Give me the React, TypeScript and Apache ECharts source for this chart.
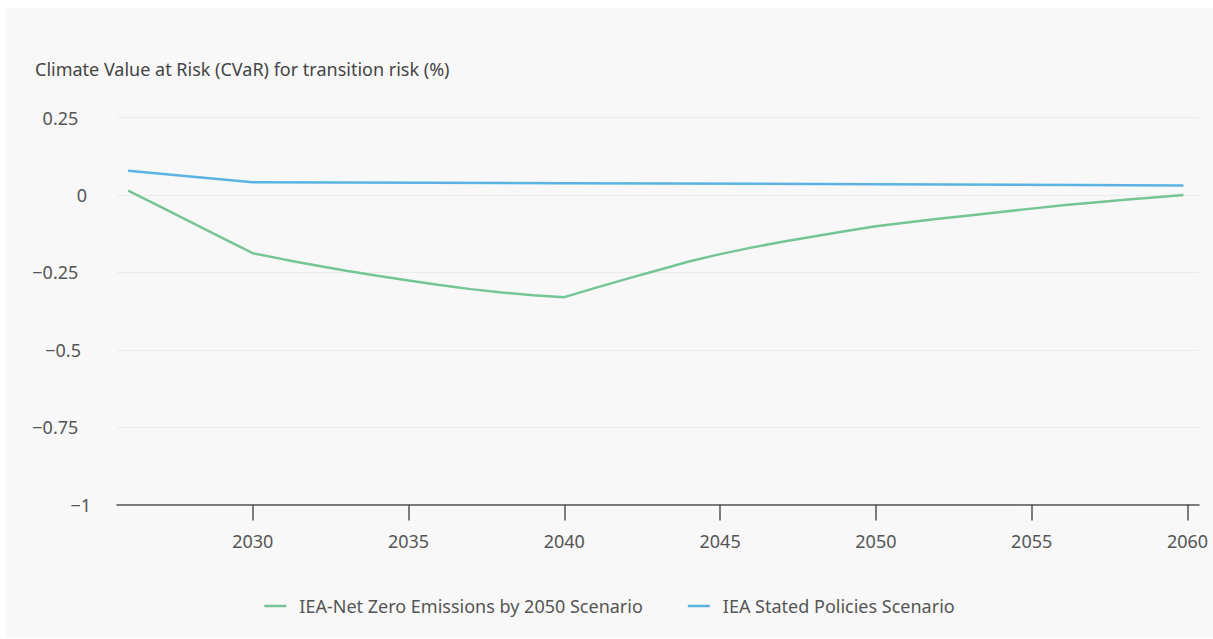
import React, { useEffect, useRef } from "react";
import * as echarts from "echarts";

const TITLE = "Climate Value at Risk (CVaR) for transition risk (%)";
const NZE_NAME = "IEA-Net Zero Emissions by 2050 Scenario";
const STEPS_NAME = "IEA Stated Policies Scenario";

const nzeYears = [2026, 2027, 2028, 2029, 2030, 2031, 2032, 2033, 2034, 2035, 2036, 2037, 2038, 2039, 2040, 2041, 2042, 2043, 2044, 2045, 2046, 2047, 2048, 2049, 2050, 2051, 2052, 2053, 2054, 2055, 2056, 2057, 2058, 2059, 2059.87];
const nzeValues = [0.014, -0.036, -0.087, -0.138, -0.188, -0.208, -0.227, -0.245, -0.261, -0.276, -0.291, -0.304, -0.315, -0.324, -0.33, -0.3, -0.271, -0.243, -0.215, -0.191, -0.17, -0.151, -0.134, -0.117, -0.101, -0.089, -0.077, -0.066, -0.055, -0.044, -0.033, -0.024, -0.015, -0.007, 0.0];

const stepsYears = [2026, 2030, 2040, 2050, 2059.87];
const stepsValues = [0.078, 0.041, 0.038, 0.035, 0.031];

const xTickValues = [2030, 2035, 2040, 2045, 2050, 2055, 2060];
const yMin = -1;
const yMax = 0.25;
const yStep = 0.25;

export default function App() {
  const ref = useRef<HTMLDivElement>(null);
  useEffect(() => {
    if (!ref.current) return;
    const chart = echarts.init(ref.current, undefined, { renderer: "svg" });
    const font = "Noto Sans";
    const fs = 18;
    const padFor = (v: number) => {
      const r = Math.round(v * 100);
      if (r === -100) return "a";
      if (r === 0) return "b";
      if (r === -50) return "c";
      return "d";
    };
    const fmtY = (v: number) => {
      const r = Math.round(v * 100) / 100;
      return r < 0 ? "\u2212" + String(-r) : String(r);
    };
    chart.setOption({
      animation: false,
      backgroundColor: "#f7f8f7",
      textStyle: { fontFamily: font },
      title: {
        text: TITLE,
        left: 24,
        top: 47,
        textStyle: { fontFamily: font, fontSize: fs, fontWeight: "normal", color: "#444" },
      },
      legend: {
        top: 584,
        left: "center",
        icon: "rect",
        itemWidth: 22,
        itemHeight: 2.5,
        itemGap: 45,
        textStyle: { fontFamily: font, fontSize: fs, color: "#555", padding: [0, 0, 0, 8] },
        data: [NZE_NAME, STEPS_NAME],
      },
      grid: { left: 111, right: 14, top: 109.6, bottom: 133.4, containLabel: false },
      xAxis: {
        type: "value",
        min: 2025.644,
        max: 2060.37,
        splitLine: { show: false },
        axisLine: { show: true, onZero: false, lineStyle: { color: "#555", width: 1.5 } },
        axisTick: { show: true, length: 16, customValues: xTickValues, lineStyle: { color: "#555", width: 1.5 } },
        axisLabel: {
          customValues: xTickValues,
          margin: 27,
          fontFamily: font,
          fontSize: fs,
          color: "#555",
          formatter: (v: number) => String(v),
        },
      },
      yAxis: {
        type: "value",
        min: yMin,
        max: yMax,
        interval: yStep,
        axisLine: { show: false },
        axisTick: { show: false },
        splitLine: { lineStyle: { color: "#ebecec", width: 1 } },
        axisLabel: {
          margin: 26,
          align: "right",
          fontFamily: font,
          fontSize: fs,
          color: "#555",
          formatter: (v: number) => `{${padFor(v)}|${fmtY(v)}}`,
          rich: {
            a: { fontFamily: font, fontSize: fs, color: "#555", padding: [0, 0, 0, 0] },
            b: { fontFamily: font, fontSize: fs, color: "#555", padding: [0, 4, 0, 0] },
            c: { fontFamily: font, fontSize: fs, color: "#555", padding: [0, 10, 0, 0] },
            d: { fontFamily: font, fontSize: fs, color: "#555", padding: [0, 12.7, 0, 0] },
          },
        },
      },
      series: [
        {
          name: NZE_NAME,
          type: "line",
          showSymbol: false,
          symbol: "none",
          color: "#76c596",
          lineStyle: { width: 2.5, color: "#76c596" },
          data: nzeYears.map((y, i) => [y, nzeValues[i]]),
        },
        {
          name: STEPS_NAME,
          type: "line",
          showSymbol: false,
          symbol: "none",
          color: "#5ab3e2",
          lineStyle: { width: 2.5, color: "#5ab3e2" },
          data: stepsYears.map((y, i) => [y, stepsValues[i]]),
        },
      ],
    });
    return () => chart.dispose();
  }, []);
  return (
    <div
      ref={ref}
      style={{ position: "absolute", left: 6, top: 8, width: 1207, height: 630 }}
    />
  );
}
